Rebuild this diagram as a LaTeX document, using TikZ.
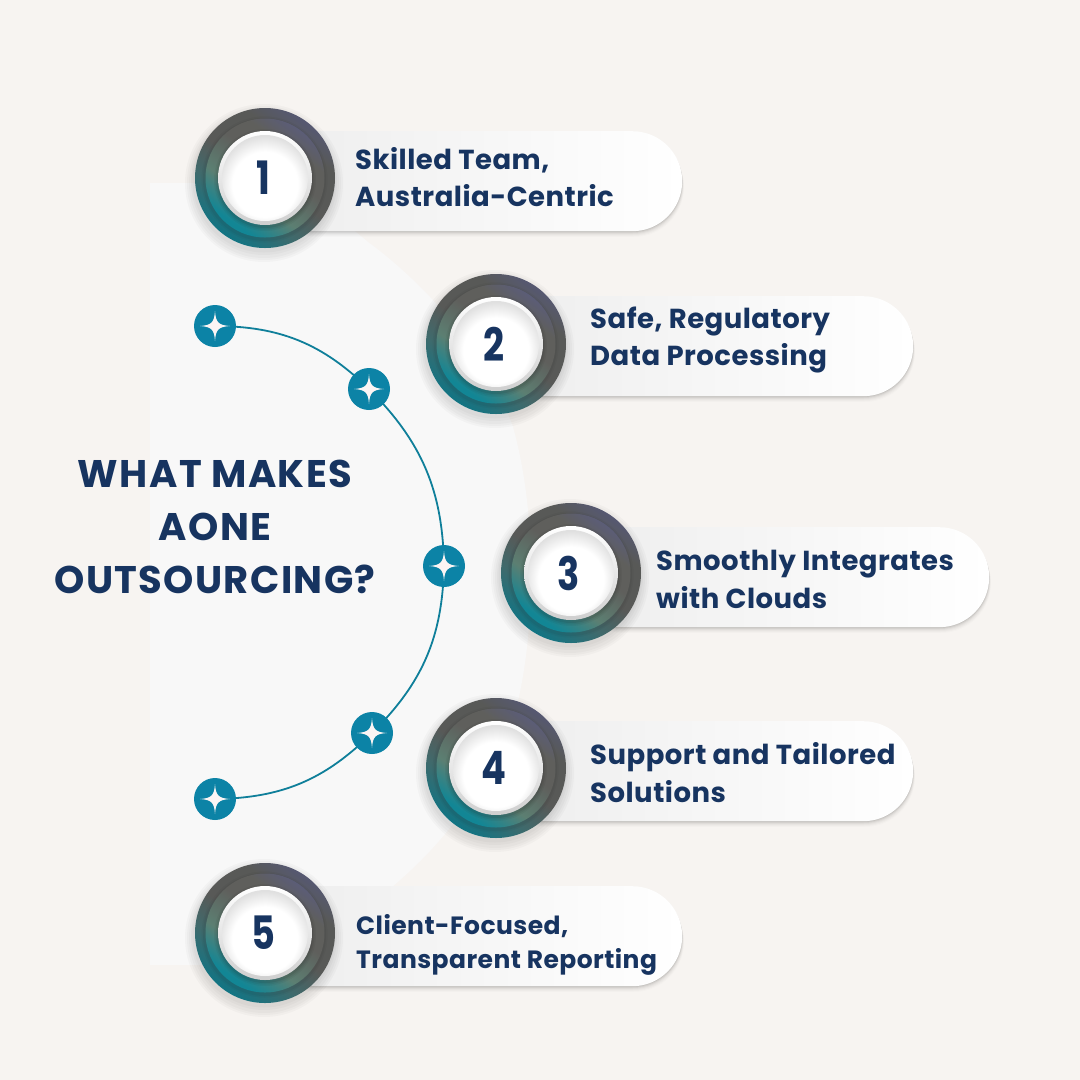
\documentclass[tikz,border=0pt]{standalone}
\usepackage{fontspec}
\setmainfont{Poppins}
\usetikzlibrary{calc,fadings}
\definecolor{bgc}{HTML}{F7F4F1}
\definecolor{panelc}{HTML}{F8F8F8}
\definecolor{navy}{HTML}{173460}
\definecolor{tealc}{HTML}{0C83A6}
\definecolor{arcc}{HTML}{0F7F9A}
\definecolor{ringteal}{HTML}{0E7585}
\definecolor{ringgreen}{HTML}{3F6A6C}
\definecolor{ringgrey}{HTML}{585957}
\definecolor{ringpurple}{HTML}{555880}
\definecolor{innerteal}{HTML}{128695}
\definecolor{innergreen}{HTML}{5C7F72}
\definecolor{innergrey}{HTML}{5F5F5C}
\definecolor{innerpurple}{HTML}{5A5C80}
\definecolor{starc}{HTML}{FBF5F4}
\pgfdeclareverticalshading{outerring}{100bp}{color(0bp)=(ringteal);color(24bp)=(ringteal);color(38bp)=(ringgreen);color(50bp)=(ringgrey);color(66bp)=(ringgrey);color(80bp)=(ringpurple);color(100bp)=(ringpurple)}
\pgfdeclareverticalshading{innerring}{100bp}{color(0bp)=(innerteal);color(27bp)=(innerteal);color(40bp)=(innergreen);color(56bp)=(innergrey);color(66bp)=(innergrey);color(78bp)=(innerpurple);color(100bp)=(innerpurple)}
\pgfdeclareradialshading{dimpleshade}{\pgfpoint{0bp}{-6bp}}{color(0bp)=(white);color(19bp)=(white);color(27bp)=(black!12);color(50bp)=(black!12)}
\tikzset{
  x=1pt,y=-1pt,
  outerdisc/.style={circle,inner sep=0pt,minimum size=140pt,shading=outerring,shading angle=-35},
  innerdisc/.style={circle,inner sep=0pt,minimum size=119pt,shading=innerring,shading angle=-35},
  whitedisc/.style={circle,inner sep=0pt,minimum size=94pt,top color=white,bottom color=black!19},
  dimple/.style={circle,inner sep=0pt,minimum size=86pt,shading=dimpleshade},
  dot/.style={circle,inner sep=0pt,minimum size=42pt,fill=tealc},
  arcline/.style={draw=arcc,line width=1.8pt},
  pillbody/.style={inner sep=0pt,minimum height=100pt,anchor=north west,rounded corners=49.9pt,left color=black!7,middle color=white,right color=white},
  pilltext/.style={anchor=west,align=left,text=navy,inner sep=0pt},
  bigline/.style={font=\bfseries\fontsize{27.5}{37.4}\selectfont\addfontfeatures{LetterSpace=1.8}},
  smallline/.style={font=\bfseries\fontsize{25}{33.5}\selectfont\addfontfeatures{LetterSpace=1.8}},
  numtext/.style={text=navy,inner sep=0pt,font=\bfseries\fontsize{46}{46}\selectfont,xscale=.8},
  titletext/.style={align=center,text=navy,inner sep=0pt,font=\bfseries\fontsize{38.5}{53}\selectfont\addfontfeatures{LetterSpace=3.6}}
}
% #1 id, #2 cx, #3 cy, #4 pill top, #5 pill right, #6 number
\newcommand{\badge}[6]{%
  \foreach \o/\a in {6/.012,5/.018,4/.022,3/.03,2/.05,1/.07}{%
    \fill[black,opacity=\a,rounded corners=50pt] (#2,#4+\o) rectangle (#5+\o/3,#4+100+\o);}
  \node[pillbody,minimum width=#5-#2pt] (p#1) at (#2,#4) {};
  \foreach \r/\o in {79/5,77/5,75/5,73/4,71.5/3}{\fill[black,opacity=.022] (#2-1,#3+\o) circle[radius=\r];}
  \node[outerdisc] (o#1) at (#2,#3) {};
  \foreach \r/\a in {63/.03,61.5/.04}{\fill[black,opacity=\a] (#2-.5,#3+1.5) circle[radius=\r];}
  \node[innerdisc] (i#1) at (#2,#3) {};
  \foreach \r/\a in {51/.04,49.5/.05,48/.07}{\fill[black,opacity=\a] (#2,#3+2) circle[radius=\r];}
  \node[whitedisc] (w#1) at (#2,#3) {};
  \node[dimple] (d#1) at (#2,#3) {};
  \node[numtext] (n#1) at (#2-2,#3) {#6};
}
\newcommand{\sparkle}[1]{%
  \fill[starc] ($(#1)+(0,-15)$) .. controls ($(#1)+(.8,-3.5)$) and ($(#1)+(3.5,-.8)$) .. ($(#1)+(15,0)$)
   .. controls ($(#1)+(3.5,.8)$) and ($(#1)+(.8,3.5)$) .. ($(#1)+(0,15)$)
   .. controls ($(#1)+(-.8,3.5)$) and ($(#1)+(-3.5,.8)$) .. ($(#1)+(-15,0)$)
   .. controls ($(#1)+(-3.5,-.8)$) and ($(#1)+(-.8,-3.5)$) .. cycle;
}
\begin{document}
\begin{tikzpicture}
\useasboundingbox (0,0) rectangle (1080,1080);
\fill[bgc] (0,0) rectangle (1080,1080);
\fill[panelc] (150,183) -- (270,183)
   .. controls (305,193) and (345,222) .. (368,242)
   .. controls (390,258) and (412,278) .. (430,297)
   .. controls (470,340) and (500,390) .. (513,427)
   .. controls (525,470) and (531,520) .. (531,574)
   .. controls (531,628) and (525,678) .. (513,721)
   .. controls (500,758) and (470,808) .. (430,851)
   .. controls (412,870) and (390,890) .. (368,906)
   .. controls (345,926) and (305,955) .. (270,965)
   -- (150,965) -- cycle;

\badge{1}{265}{178}{131}{682}{1}
\badge{2}{496}{344}{296}{913}{2}
\badge{3}{571}{573}{527}{989}{3}
\badge{4}{496}{768}{721}{913}{4}
\badge{5}{265}{933}{886}{682}{5}

\node[pilltext,bigline] (t1) at (355,177) {Skilled Team,\\Australia-Centric};
\node[pilltext,bigline] (t2) at (590,340) {Safe, Regulatory\\Data Processing};
\node[pilltext,bigline] (t3) at (656,579.5) {Smoothly Integrates\\with Clouds};
\node[pilltext,bigline] (t4) at (590,772.5) {Support and Tailored\\Solutions};
\node[pilltext,smallline] (t5) at (356,945) {Client-Focused,\\Transparent Reporting};

\node[titletext] (title) at (215,527) {WHAT MAKES\\AONE\\OUTSOURCING?};

\coordinate (da) at (215,326);
\coordinate (db) at (369,389);
\coordinate (dc) at (444,566);
\coordinate (dd) at (372,733);
\coordinate (de) at (215,799);
\draw[arcline] (da) to[bend left=22] (db) to[bend left=22] (dc) to[bend left=22] (dd) to[bend left=22] (de);
\node[dot] (n-a) at (da) {};
\node[dot] (n-b) at (db) {};
\node[dot] (n-c) at (dc) {};
\node[dot] (n-d) at (dd) {};
\node[dot] (n-e) at (de) {};
\sparkle{da}\sparkle{db}\sparkle{dc}\sparkle{dd}\sparkle{de}
\end{tikzpicture}
\end{document}
